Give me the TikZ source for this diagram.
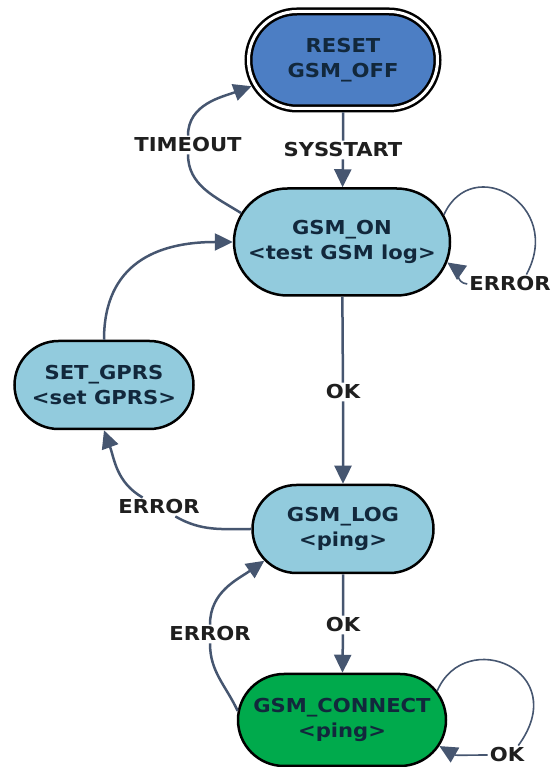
\documentclass[tikz,border=0pt]{standalone}
\usepackage{fontspec}
\setmainfont{DejaVu Sans}[FakeStretch=1.1]
\usetikzlibrary{arrows.meta,shapes.misc}
\definecolor{resetblue}{RGB}{76,126,196}
\definecolor{stateblue}{RGB}{146,203,221}
\definecolor{connectgreen}{RGB}{0,170,76}
\definecolor{arrowgrey}{RGB}{70,86,112}
\definecolor{statetext}{RGB}{18,40,60}
\newcommand{\fsmtext}{\fontsize{19.2}{24.5}\selectfont\bfseries}

\begin{document}
\begin{tikzpicture}[x=1pt,y=1pt,
   state/.style={rounded rectangle,draw=black,line width=2.5pt,text=statetext,
      align=center,font=\fsmtext,inner sep=0pt},
   tr/.style={draw=arrowgrey,line width=2.5pt,-{Triangle[length=18pt,width=17pt]}},
   loopy/.style={tr,line width=1.6pt},
   ev/.style={font=\fsmtext,text=black!88,inner sep=2pt}]
   \useasboundingbox (0,0) rectangle (553,767);

   \node[state,fill=resetblue,double=white,double distance=3pt,outer sep=4pt,
      minimum width=189,minimum height=97] (reset) at (343,707) {RESET\\GSM\_OFF};
   \node[state,fill=stateblue,minimum width=216,minimum height=107] (on) at (342,525) {GSM\_ON\\<test GSM log>};
   \node[state,fill=stateblue,minimum width=179,minimum height=88] (set) at (104,382) {SET\_GPRS\\<set GPRS>};
   \node[state,fill=stateblue,minimum width=181,minimum height=88] (log) at (343,238) {GSM\_LOG\\<ping>};
   \node[state,fill=connectgreen,minimum width=208,minimum height=92] (cn) at (342,47) {GSM\_CONNECT\\<ping>};

   \node[ev] (sysstart) at (343,617) {SYSSTART};
   \node[ev] (timeout) at (188,622) {TIMEOUT};
   \node[ev] (onerr) at (510,483) {ERROR};
   \node[ev] (okon) at (343,375) {OK};
   \node[ev] (logerr) at (159,260) {ERROR};
   \node[ev] (oklog) at (343,142) {OK};
   \node[ev] (cnerr) at (210,133) {ERROR};
   \node[ev] (cnok) at (507,12) {OK};

   \draw[tr] (reset) -- (sysstart) -- (on);
   \draw[tr] (on) -- (okon) -- (log);
   \draw[tr] (log) -- (oklog) -- (cn);
   \draw[tr] (on.164) to[out=148,in=-90] (timeout) to[out=90,in=200] (reset.196);
   \draw[tr] (set.north) to[out=90,in=180,looseness=1.2] (on.west);
   \draw[tr] (log.west) to[out=180,in=-30] (logerr) to[out=150,in=-70] (set.south);
   \draw[tr] (cn.175) to[out=115,in=-90] (cnerr) to[out=90,in=215] (log.202);
   \draw[loopy] (on.15) .. controls +(28,62) and +(38,70) .. (onerr.30)
      (onerr.west) to[out=175,in=-35] (on.-11);
   \draw[loopy] (cn.17) .. controls +(28,65) and +(55,75) .. (cnok.40)
      (cnok.west) to[out=180,in=-30] (cn.-15);
\end{tikzpicture}
\end{document}
